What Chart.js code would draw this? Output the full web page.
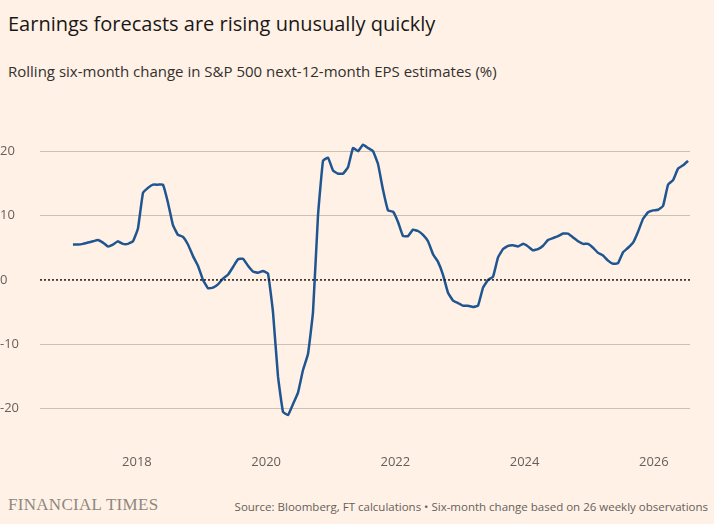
<!DOCTYPE html>
<html lang="en">
<head>
<meta charset="UTF-8">
<title>Earnings forecasts</title>
<style>
* { margin: 0; padding: 0; box-sizing: border-box; }
body { width: 714px; height: 524px; background: #fff1e5; font-family: 'Open Sans', sans-serif; color: #33302e; position: relative; overflow: hidden; }
h1 { position: absolute; left: 8px; top: 10px; font-size: 20px; font-weight: 400; color: #1a1817; }
h2 { position: absolute; left: 8px; top: 61px; font-size: 15px; font-weight: 400; color: #33302e; }
.chart-box { position: absolute; left: 0; top: 100px; width: 714px; height: 382px; }
.brand { position: absolute; left: 8px; top: 495px; font-family: 'Liberation Serif', serif; font-size: 17px; color: #8f8781; letter-spacing: 0.3px; }
.source { position: absolute; right: 6px; top: 499px; font-size: 11.5px; color: #66605c; }
</style>
</head>
<body>
<h1>Earnings forecasts are rising unusually quickly</h1>
<h2>Rolling six-month change in S&amp;P 500 next-12-month EPS estimates (%)</h2>
<div class="chart-box"><canvas id="epsChart"></canvas></div>
<div class="brand">FINANCIAL TIMES</div>
<div class="source">Source: Bloomberg, FT calculations • Six-month change based on 26 weekly observations</div>
<script src="https://cdn.jsdelivr.net/npm/chart.js"></script>
<script>
// roughly four-weekly readings, starting early 2017
const startYear = 2017.01;
const stepYears = 0.0774;
const epsChange = [
  5.5, 5.5, 5.6, 5.8, 6.0, 6.2, 5.8, 5.2, 5.5, 6.0, 5.6, 5.6, 6.0, 8.0, 13.5, 14.3, 14.8, 14.8, 14.8, 12,
  8.5, 7, 6.7, 5.5, 3.7, 2.2, 0, -1.3, -1.2, -0.7, 0.2, 0.8, 2, 3.2, 3.3, 2.2, 1.3, 1.1, 1.4, 1.0,
  -5, -15, -20.5, -21, -19.3, -17.5, -14, -11.5, -5, 10, 18.5, 19, 17, 16.5, 16.5, 17.5, 20.5, 20, 21, 20.5,
  20, 18, 14, 10.8, 10.6, 9, 6.8, 6.8, 7.8, 7.6, 7, 6, 4, 2.8, 0.8, -2, -3.2, -3.6, -4, -4,
  -4.2, -4, -1.2, 0, 0.5, 3.5, 4.8, 5.3, 5.4, 5.2, 5.6, 5.2, 4.6, 4.8, 5.3, 6.2, 6.5, 6.8, 7.2, 7.2,
  6.6, 6, 5.6, 5.6, 5.0, 4.2, 3.8, 3, 2.5, 2.6, 4.3, 5.0, 5.8, 7.5, 9.5, 10.5, 10.8, 10.9, 11.5, 14.8,
  15.5, 17.3, 17.8, 18.5
];
const yTicks = [-20, -10, 0, 10, 20];
const xTicks = [2018, 2020, 2022, 2024, 2026];
const xMin = 2016.5, xMax = 2026.56;

const points = epsChange.map((v, i) => ({ x: startYear + i * stepYears, y: v }));

new Chart(document.getElementById('epsChart'), {
  type: 'line',
  data: {
    datasets: [
      { data: [{ x: xMin, y: 0 }, { x: xMax, y: 0 }], borderColor: '#1a1817', borderWidth: 1.5, borderDash: [2, 2], pointRadius: 0 },
      { data: points, borderColor: '#1f5590', borderWidth: 2.5, pointRadius: 0, tension: 0.1 }
    ]
  },
  options: {
    responsive: true,
    maintainAspectRatio: false,
    animation: false,
    layout: { padding: { top: 19, right: 24, left: 0, bottom: 0 } },
    plugins: { legend: { display: false }, tooltip: { enabled: false } },
    scales: {
      x: {
        type: 'linear', min: xMin, max: xMax,
        afterBuildTicks: s => { s.ticks = xTicks.map(v => ({ value: v })); },
        grid: { display: false },
        border: { display: false },
        ticks: { color: '#66605c', font: { family: 'Open Sans', size: 13 }, padding: 12, callback: v => String(v) }
      },
      y: {
        min: -24, max: 25,
        afterBuildTicks: s => { s.ticks = yTicks.map(v => ({ value: v })); },
        afterFit: s => { s.width = 40; },
        grid: { color: c => c.tick && c.tick.value === 0 ? 'rgba(0,0,0,0)' : '#cdbfb3', drawTicks: false, lineWidth: 1 },
        border: { display: false },
        ticks: { color: '#66605c', font: { family: 'Open Sans', size: 13 }, padding: 10, align: 'center', crossAlign: 'far' }
      }
    }
  }
});
</script>
</body>
</html>
